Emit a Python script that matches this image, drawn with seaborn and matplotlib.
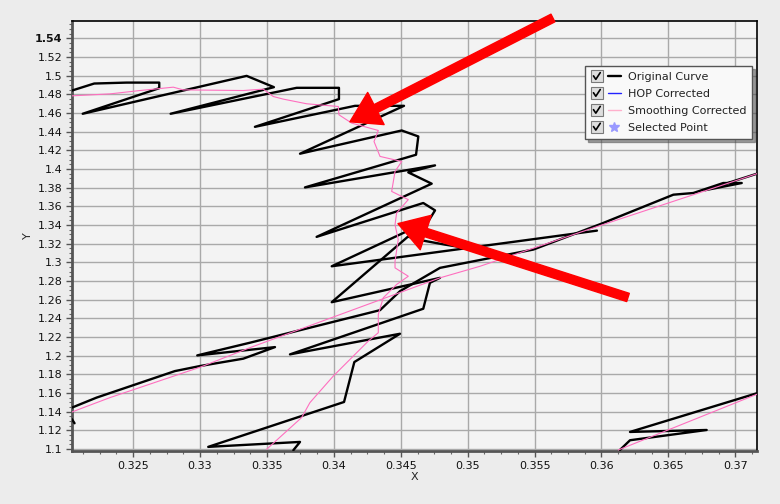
import pandas as pd
import matplotlib
matplotlib.use("Agg")
import matplotlib.pyplot as plt
import seaborn as sns
from matplotlib.lines import Line2D
from matplotlib.patches import Rectangle
from matplotlib.legend_handler import HandlerBase
from matplotlib.ticker import MultipleLocator, FuncFormatter

# --- data ---
# Original Curve, upper zigzag part (ends at the long branch on the right)
orig_top_x = [0.32043, 0.32209, 0.32451, 0.32695, 0.32695, 0.32123, 0.33348, 0.33552,
              0.32780, 0.33722, 0.34038, 0.34038, 0.33410, 0.34158, 0.34524, 0.33747,
              0.34507, 0.34631, 0.34614, 0.33784, 0.34756, 0.34556, 0.34731, 0.33871,
              0.34668, 0.34756, 0.34706, 0.33984, 0.35966]
orig_top_y = [1.4842, 1.4917, 1.4927, 1.4927, 1.4867, 1.4593, 1.4999, 1.4878,
              1.4593, 1.4871, 1.4871, 1.4750, 1.4453, 1.4678, 1.4678, 1.4165,
              1.4414, 1.4350, 1.4154, 1.3804, 1.4040, 1.3965, 1.3844, 1.3274,
              1.3637, 1.3558, 1.3441, 1.2959, 1.3341]
# Original Curve, lower zigzag part
orig_low_x = [0.35017, 0.34830, 0.34644, 0.34554, 0.33984, 0.34793, 0.34718, 0.34668,
              0.33672, 0.34494, 0.34153, 0.34076, 0.33061, 0.33747, 0.33697]
orig_low_y = [1.3149, 1.3191, 1.3240, 1.3277, 1.2574, 1.2835, 1.2782, 1.2504,
              1.2015, 1.2236, 1.1933, 1.1505, 1.1024, 1.1077, 1.0988]
# Original Curve, long diagonal
orig_diag_x = [0.32043, 0.32227, 0.32812, 0.32999, 0.33323, 0.33560, 0.32979, 0.33373,
               0.34345, 0.34494, 0.34793, 0.35490, 0.36001, 0.36537, 0.36686, 0.36910,
               0.37048, 0.36774, 0.37162]
orig_diag_y = [1.1445, 1.1552, 1.1836, 1.1890, 1.1969, 1.2093, 1.2004, 1.2140,
               1.2489, 1.2692, 1.2942, 1.3138, 1.3416, 1.3726, 1.3744, 1.3851,
               1.3851, 1.3774, 1.3951]
# Original Curve, bottom right corner and small stub at left edge
orig_corner_x = [0.36138, 0.36213, 0.36786, 0.36213, 0.37160]
orig_corner_y = [1.0991, 1.1095, 1.1205, 1.1184, 1.1598]
orig_stub_x = [0.32043, 0.32062]
orig_stub_y = [1.1320, 1.1277]

# Smoothing Corrected
smooth_top_x = [0.32043, 0.32327, 0.32551, 0.32800, 0.32874, 0.33323, 0.33472, 0.33547,
                0.33622, 0.33797, 0.34033, 0.34038, 0.34133, 0.34332, 0.34300, 0.34345,
                0.34507, 0.34457, 0.34432, 0.34556, 0.34469, 0.34457, 0.34481, 0.34457,
                0.34457, 0.34556, 0.34469, 0.34369, 0.34332, 0.34332, 0.34257, 0.33996,
                0.33821, 0.33759, 0.33498]
smooth_top_y = [1.4785, 1.4806, 1.4842, 1.4878, 1.4849, 1.4842, 1.4857, 1.4778,
                1.4750, 1.4700, 1.4671, 1.4582, 1.4493, 1.4414, 1.4296, 1.4136,
                1.4082, 1.3975, 1.3761, 1.3673, 1.3530, 1.3405, 1.3245, 1.3013,
                1.2942, 1.2852, 1.2764, 1.2621, 1.2443, 1.2247, 1.2157, 1.1783,
                1.1498, 1.1338, 1.0999]
smooth_diag_x = [0.32043, 0.32327, 0.32999, 0.33373, 0.34793, 0.35092, 0.35989, 0.37162]
smooth_diag_y = [1.1398, 1.1552, 1.1877, 1.2087, 1.2835, 1.2959, 1.3395, 1.3951]
smooth_corner_x = [0.36126, 0.37160]
smooth_corner_y = [1.0991, 1.1587]

# red annotation arrows: (tail, tip)
arrow_tails = [(0.35637, 1.5619), (0.36198, 1.2625)]
arrow_tips = [(0.34120, 1.4507), (0.34479, 1.3416)]

legend_labels = ["Original Curve", "HOP Corrected", "Smoothing Corrected", "Selected Point"]


def segments(parts):
    frames = []
    for i, (xs, ys) in enumerate(parts):
        frames.append(pd.DataFrame({"x": xs, "y": ys, "seg": i}))
    return pd.concat(frames, ignore_index=True)


orig = segments([(orig_top_x, orig_top_y), (orig_low_x, orig_low_y),
                 (orig_diag_x, orig_diag_y), (orig_corner_x, orig_corner_y),
                 (orig_stub_x, orig_stub_y)])
smooth = segments([(smooth_top_x, smooth_top_y), (smooth_diag_x, smooth_diag_y),
                   (smooth_corner_x, smooth_corner_y)])


class CheckboxHandler(HandlerBase):
    # legend entry drawn as a ticked checkbox followed by the line sample
    def create_artists(self, legend, orig_handle, xdescent, ydescent, width, height, fontsize, trans):
        size = height * 1.5
        x0 = -xdescent
        y0 = -ydescent + (height - size) / 2
        box = Rectangle((x0, y0), size, size, facecolor="#dedede", edgecolor="#7a7a7a",
                        lw=0.8, transform=trans)
        tick = Line2D([x0 + 0.22 * size, x0 + 0.42 * size, x0 + 0.8 * size],
                      [y0 + 0.52 * size, y0 + 0.22 * size, y0 + 0.8 * size],
                      color="black", lw=1.2, transform=trans)
        xs = x0 + size + 0.18 * width
        xe = x0 + width
        ym = -ydescent + height / 2
        if orig_handle.get_marker() not in (None, "None", "", " "):
            sample = Line2D([(xs + xe) / 2], [ym], ls="none", marker=orig_handle.get_marker(),
                            ms=orig_handle.get_markersize(), color=orig_handle.get_color(),
                            transform=trans)
        else:
            sample = Line2D([xs, xe], [ym, ym], color=orig_handle.get_color(),
                            lw=orig_handle.get_linewidth(), transform=trans)
        return [box, tick, sample]


sns.set_style("ticks")
plt.rcParams["font.family"] = ["DejaVu Sans"]

fig = plt.figure(figsize=(7.8, 5.04), dpi=100, facecolor="#ececec")
ax = fig.add_axes([0.0923, 0.1052, 0.8782, 0.8537])
ax.set_facecolor("#f3f3f3")

sns.lineplot(data=orig, x="x", y="y", units="seg", estimator=None, sort=False,
             color="black", lw=1.7, ax=ax, zorder=3)
sns.lineplot(data=smooth, x="x", y="y", units="seg", estimator=None, sort=False,
             color="#ff6fbf", lw=0.8, ax=ax, zorder=3.5)

ax.set_xlim(0.32043, 0.37162)
ax.set_ylim(1.098, 1.559)
ax.xaxis.set_major_locator(MultipleLocator(0.005))
ax.xaxis.set_minor_locator(MultipleLocator(0.00125))
ax.yaxis.set_major_locator(MultipleLocator(0.02))
ax.yaxis.set_minor_locator(MultipleLocator(0.005))
fmt = FuncFormatter(lambda v, _: f"{v:.4f}".rstrip("0").rstrip("."))
ax.xaxis.set_major_formatter(fmt)
ax.yaxis.set_major_formatter(fmt)
ax.grid(True, which="major", color="#a9a9a9", lw=1.0)
ax.set_axisbelow(True)
ax.tick_params(axis="both", which="major", direction="out", length=4, width=1,
               color="#555555", labelsize=8, labelcolor="#111111", pad=3)
ax.tick_params(axis="both", which="minor", direction="out", length=2, width=0.8, color="#666666")
for lbl in ax.get_yticklabels():
    if lbl.get_text() == "1.54":
        lbl.set_fontweight("bold")

for side in ["left", "bottom"]:
    ax.spines[side].set_color("#555555")
    ax.spines[side].set_linewidth(2)
for side in ["top", "right"]:
    ax.spines[side].set_color("black")
    ax.spines[side].set_linewidth(1.2)

ax.set_xlabel("X", fontsize=8, labelpad=1)
ax.set_ylabel("Y", fontsize=8, labelpad=1)

for tail, tip in zip(arrow_tails, arrow_tips):
    ax.annotate("", xy=tip, xytext=tail, annotation_clip=False, zorder=6,
                arrowprops=dict(arrowstyle="simple,head_length=2.1,head_width=2.6,tail_width=0.62",
                                color="red", mutation_scale=10, shrinkA=0, shrinkB=0))

handles = [Line2D([], [], color="black", lw=1.7),
           Line2D([], [], color="#2222ff", lw=1.0),
           Line2D([], [], color="#ffb0cc", lw=1.0),
           Line2D([], [], color="#9999ff", ls="none", marker="*", markersize=7)]
leg = ax.legend(handles, legend_labels, loc="upper right", bbox_to_anchor=(0.993, 0.895),
                borderaxespad=0, handler_map={Line2D: CheckboxHandler()}, fontsize=8,
                handlelength=2.7, handletextpad=0.6, labelspacing=0.62, borderpad=0.55,
                fancybox=False, shadow=True, framealpha=1, facecolor="#f9f9f9",
                edgecolor="#555555")
leg.set_zorder(7)
for t in leg.get_texts():
    t.set_color("#222222")

fig.savefig("out.png", dpi=100, facecolor=fig.get_facecolor())
